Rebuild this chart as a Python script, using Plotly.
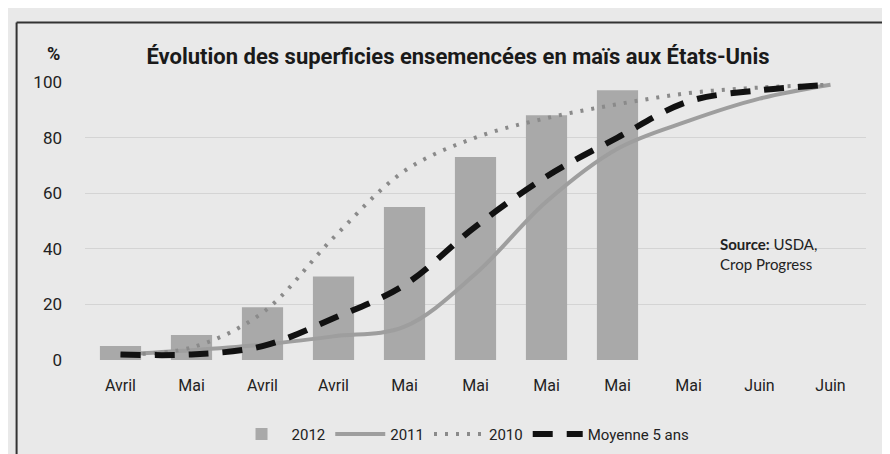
import plotly.graph_objects as go

# ---- data ----
tick_labels = ["Avril", "Mai", "Avril", "Avril", "Mai", "Mai", "Mai", "Mai", "Mai", "Juin", "Juin"]
x_pos = list(range(len(tick_labels)))
y_2012 = [5, 9, 19, 30, 55, 73, 88, 97]
y_2011 = [2, 3.5, 5.5, 8.5, 12, 31, 57, 76, 86, 94, 99]
y_2010 = [2, 4.5, 17, 44, 68, 80, 87, 92, 96, 98, 99]
y_avg = [2, 2, 5, 15, 27, 48, 66, 80, 93, 97, 99]
y_ticks = [0, 20, 40, 60, 80, 100]

condensed = "Roboto, sans-serif"

fig = go.Figure()
fig.add_trace(go.Bar(
    x=x_pos[:len(y_2012)], y=y_2012, name="2012",
    marker=dict(color="#a9a9a9", line=dict(width=0)), width=0.58,
))
fig.add_trace(go.Scatter(
    x=x_pos, y=y_2011, name="2011", mode="lines",
    line=dict(color="#9e9e9e", width=4, shape="spline", smoothing=1.0),
))
fig.add_trace(go.Scatter(
    x=x_pos, y=y_2010, name="2010", mode="lines",
    line=dict(color="#8a8a8a", width=4, dash="3px,8px", shape="spline", smoothing=1.0),
))
fig.add_trace(go.Scatter(
    x=x_pos, y=y_avg, name="Moyenne 5 ans", mode="lines",
    line=dict(color="#111111", width=6, dash="20px,14px", shape="spline", smoothing=1.0),
))

W, H = 890, 454
L, R, T, B = 76.5, 858.5, 74, 359

fig.update_layout(
    width=W, height=H,
    margin=dict(l=L, r=W - R, t=T, b=H - B),
    paper_bgcolor="#e9e9e9",
    plot_bgcolor="#e9e9e9",
    font=dict(family=condensed, color="#222222"),
    title=dict(
        text="<b>Évolution des superficies ensemencées en maïs aux États-Unis</b>",
        x=(450 - L) / (R - L), xref="paper", xanchor="center",
        y=1 - 48 / H, yref="container", yanchor="middle",
        font=dict(family=condensed, size=22, color="#1a1a1a"),
    ),
    showlegend=True,
    legend=dict(
        orientation="h", x=(455 - L) / (R - L), xanchor="center",
        y=-(435 - B) / (B - T), yanchor="middle",
        font=dict(family=condensed, size=15, color="#222222"),
        bgcolor="rgba(0,0,0,0)", itemwidth=50,
    ),
    xaxis=dict(
        range=[-0.5, 10.5], tickmode="array", tickvals=x_pos, ticktext=tick_labels,
        showgrid=False, zeroline=False, showline=False, ticks="",
        tickfont=dict(family=condensed, size=16, color="#222222"),
        ticklabelstandoff=14,
    ),
    yaxis=dict(
        range=[0, 100], tickmode="array", tickvals=y_ticks,
        showgrid=True, gridcolor="#d4d4d4", gridwidth=1,
        zeroline=False, showline=False, ticks="",
        tickfont=dict(family=condensed, size=17, color="#222222"),
        ticklabelstandoff=22,
    ),
    annotations=[
        dict(text="<b>%</b>", xref="paper", yref="paper",
             x=(45 - L) / (R - L), y=(B - 45) / (B - T),
             showarrow=False, xanchor="center", yanchor="middle",
             font=dict(family=condensed, size=18, color="#1a1a1a")),
        dict(text="<b>Source:</b> USDA,<br>Crop Progress", xref="paper", yref="paper",
             x=(710 - L) / (R - L), y=(B - 250) / (B - T),
             showarrow=False, xanchor="left", yanchor="middle", align="left",
             font=dict(family="Lato, Open Sans, sans-serif", size=15, color="#222222")),
    ],
    shapes=[
        dict(type="line", xref="paper", yref="paper",
             x0=(8 - L) / (R - L), x1=(8 - L) / (R - L),
             y0=(B - 13) / (B - T), y1=(B - 460) / (B - T),
             line=dict(color="#333333", width=2)),
        dict(type="line", xref="paper", yref="paper",
             x0=(8 - L) / (R - L), x1=(895 - L) / (R - L),
             y0=(B - 13) / (B - T), y1=(B - 13) / (B - T),
             line=dict(color="#333333", width=2)),
    ],
)

fig.write_html("out.html")
